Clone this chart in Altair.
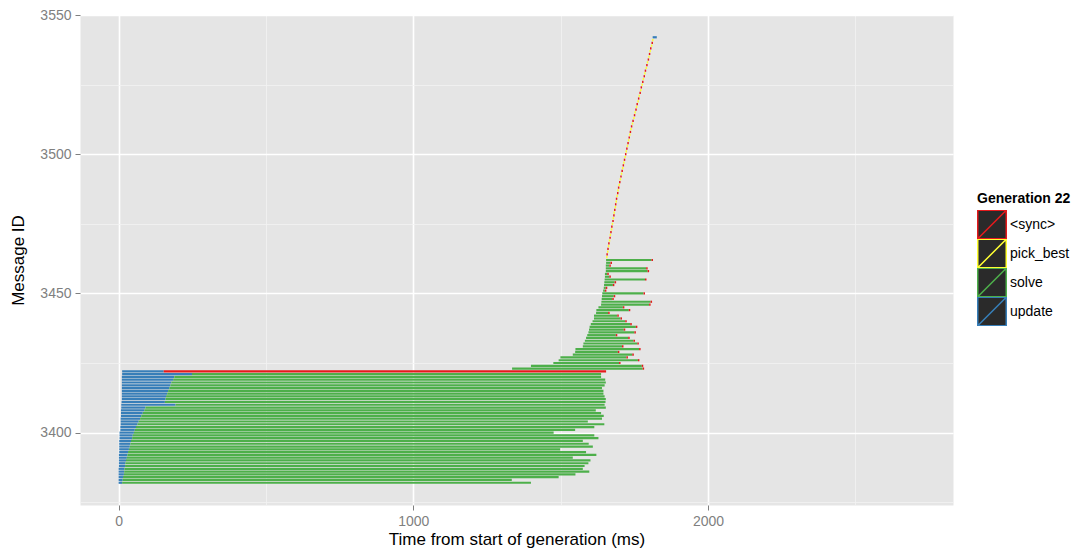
import altair as alt
import pandas as pd

# ---------------- data ----------------
types = ["<sync>", "pick_best", "solve", "update"]
colors = ["#E41A1C", "#FFFF33", "#4DAF4A", "#377EB8"]

# messages 3382 .. 3422 : update then solve (3422: update then sync)
low_ids = list(range(3382, 3423))
low_update_start = [0, 0, 0, 0, 0, 0, 1, 1, 1, 1, 1, 2, 2, 2, 2, 2, 3, 3, 3, 6, 6,
                    7, 7, 7, 8, 8, 8, 9, 9, 10, 11, 11, 11, 11, 11, 11, 11, 11, 11, 12, 12]
low_update_end = [12, 14, 15, 18, 19, 20, 22, 23, 25, 28, 30, 32, 35, 38, 40, 42, 46, 48, 52, 55, 59,
                  64, 68, 73, 77, 82, 87, 91, 193, 157, 159, 161, 165, 168, 172, 176, 179, 185, 189, 249, 153]
low_solve_end = [1399, 1334, 1493, 1550, 1597, 1575, 1581, 1594, 1601, 1541, 1621, 1586, 1498, 1609,
                 1595, 1575, 1628, 1614, 1476, 1549, 1614, 1648, 1592, 1640, 1646, 1637, 1619, 1653,
                 1649, 1652, 1653, 1649, 1645, 1645, 1640, 1649, 1653, 1651, 1637, 1637]
sync_3422_end = 1654

# messages 3423 .. 3462 : solve then a short sync
mid_ids = list(range(3423, 3463))
mid_solve_start = [1335, 1399, 1475, 1493, 1499, 1541, 1549, 1550, 1575, 1577, 1582, 1586, 1590, 1594,
                   1596, 1598, 1602, 1608, 1613, 1613, 1620, 1621, 1628, 1637, 1638, 1639, 1640, 1641,
                   1644, 1646, 1647, 1648, 1649, 1650, 1650, 1653, 1653, 1653, 1654, 1654]
mid_solve_end = [1778, 1775, 1698, 1762, 1723, 1743, 1694, 1766, 1708, 1760, 1747, 1729, 1687, 1750,
                 1714, 1755, 1736, 1719, 1703, 1692, 1661, 1731, 1711, 1800, 1805, 1675, 1680, 1781,
                 1650, 1653, 1677, 1683, 1786, 1665, 1658, 1795, 1790, 1665, 1669, 1808]
mid_sync_end = [1783, 1780, 1703, 1767, 1728, 1748, 1699, 1771, 1713, 1765, 1752, 1734, 1692, 1755,
                1719, 1760, 1741, 1724, 1708, 1697, 1666, 1736, 1716, 1805, 1810, 1680, 1685, 1786,
                1655, 1658, 1682, 1688, 1791, 1670, 1663, 1800, 1795, 1670, 1674, 1813]

# messages 3463 .. 3541 : short pick_best / sync steps
top_ids = list(range(3463, 3542))
top_start = [1654, 1655, 1657, 1658, 1660, 1661, 1663, 1665, 1666, 1668, 1670, 1671, 1673, 1675,
             1676, 1678, 1679, 1681, 1683, 1684, 1686, 1687, 1689, 1691, 1692, 1694, 1696, 1698,
             1700, 1702, 1704, 1706, 1708, 1710, 1712, 1714, 1716, 1718, 1720, 1722, 1724, 1726,
             1728, 1730, 1732, 1734, 1736, 1738, 1741, 1743, 1746, 1748, 1750, 1753, 1755, 1757,
             1760, 1762, 1764, 1767, 1769, 1771, 1774, 1776, 1778, 1781, 1783, 1785, 1788, 1790,
             1792, 1795, 1797, 1799, 1801, 1803, 1806, 1808, 1810]
top_end = [1659, 1660, 1662, 1663, 1665, 1666, 1668, 1670, 1671, 1673, 1675, 1676, 1678, 1680,
           1681, 1683, 1684, 1686, 1688, 1689, 1691, 1692, 1694, 1696, 1697, 1699, 1701, 1703,
           1705, 1707, 1709, 1711, 1713, 1715, 1717, 1719, 1721, 1723, 1725, 1727, 1729, 1731,
           1733, 1735, 1737, 1739, 1741, 1743, 1746, 1748, 1751, 1753, 1755, 1758, 1760, 1762,
           1765, 1767, 1769, 1772, 1774, 1776, 1779, 1781, 1783, 1786, 1788, 1790, 1793, 1795,
           1797, 1800, 1802, 1804, 1806, 1808, 1811, 1813, 1815]

last_id = 3542
last_update = (1812, 1826)

# ---------------- build table ----------------
rows = []
for i, mid in enumerate(low_ids):
    rows.append((mid, low_update_start[i], low_update_end[i], "update"))
    if i < len(low_solve_end):
        rows.append((mid, low_update_end[i], low_solve_end[i], "solve"))
    else:
        rows.append((mid, low_update_end[i], sync_3422_end, "<sync>"))
for i, mid in enumerate(mid_ids):
    rows.append((mid, mid_solve_start[i], mid_solve_end[i], "solve"))
    rows.append((mid, mid_solve_end[i], mid_sync_end[i], "<sync>"))
for i, mid in enumerate(top_ids):
    rows.append((mid, top_start[i], top_end[i], "pick_best" if mid % 2 else "<sync>"))
rows.append((last_id, last_update[0], last_update[1], "update"))

df = pd.DataFrame(rows, columns=["id", "start", "end", "type"])

FONT = "Liberation Sans"


def cond(test, a, b):
    return {"condition": {"test": test, "value": a}, "value": b}


xmaj = "datum.value % 1000 === 0"
ymaj = "datum.value % 50 === 0"

x_axis = alt.Axis(
    values=[0, 500, 1000, 1500, 2000, 2500],
    format="d",
    labelExpr="datum.value % 1000 === 0 ? datum.label : ''",
    grid=True,
    gridColor=cond(xmaj, "#FFFFFF", "#F2F2F2"),
    gridWidth=cond(xmaj, 1.6, 0.8),
    tickColor=cond(xmaj, "#7F7F7F", "rgba(0,0,0,0)"),
    domain=False,
    tickSize=5,
    labelPadding=4,
    labelFont=FONT,
    labelFontSize=14,
    labelColor="#7F7F7F",
    titleFont=FONT,
    titleFontSize=17,
    titleFontWeight="normal",
    titleColor="#000000",
    titlePadding=3,
)

y_axis = alt.Axis(
    values=[3375, 3400, 3425, 3450, 3475, 3500, 3525, 3550],
    format="d",
    labelExpr="datum.value % 50 === 0 ? datum.label : ''",
    grid=True,
    gridColor=cond(ymaj, "#FFFFFF", "#F2F2F2"),
    gridWidth=cond(ymaj, 1.6, 0.8),
    tickColor=cond(ymaj, "#7F7F7F", "rgba(0,0,0,0)"),
    domain=False,
    tickSize=5,
    labelPadding=4,
    labelFont=FONT,
    labelFontSize=14,
    labelColor="#7F7F7F",
    titleFont=FONT,
    titleFontSize=17,
    titleFontWeight="normal",
    titleColor="#000000",
    titlePadding=12,
)

legend = alt.Legend(
    orient="none",
    legendX=897,
    legendY=177,
    symbolType="M-1,-1L1,-1L1,1L-1,1Z M-1,1L1,-1",
    symbolSize=812,
    symbolFillColor="#2A2A2A",
    symbolStrokeWidth=1.5,
    symbolOpacity=1,
    clipHeight=29,
    rowPadding=0,
    labelFont=FONT,
    labelFontSize=14,
    labelColor="#000000",
    labelOffset=3,
    titleFont=FONT,
    titleFontSize=14,
    titleFontWeight="bold",
    titleColor="#000000",
    titlePadding=4,
    padding=0,
)

chart = (
    alt.Chart(df)
    .mark_rule(strokeWidth=2.2, strokeCap="butt")
    .encode(
        x=alt.X("start:Q", scale=alt.Scale(domain=[-131, 2831], nice=False, zero=False),
                axis=x_axis, title="Time from start of generation (ms)"),
        x2="end:Q",
        y=alt.Y("id:Q", scale=alt.Scale(domain=[3374, 3550], nice=False, zero=False),
                axis=y_axis, title="Message ID"),
        color=alt.Color("type:N", scale=alt.Scale(domain=types, range=colors),
                        legend=legend, title="Generation 22"),
    )
    .properties(
        width=873,
        height=490,
        autosize=alt.AutoSizeParams(type="none"),
        padding={"left": 72, "top": 7, "right": 126, "bottom": 44},
        background="#FFFFFF",
    )
    .configure_view(fill="#E5E5E5", stroke="transparent")
)

chart.save("out.html", embed_options={"renderer": "svg", "actions": False})
